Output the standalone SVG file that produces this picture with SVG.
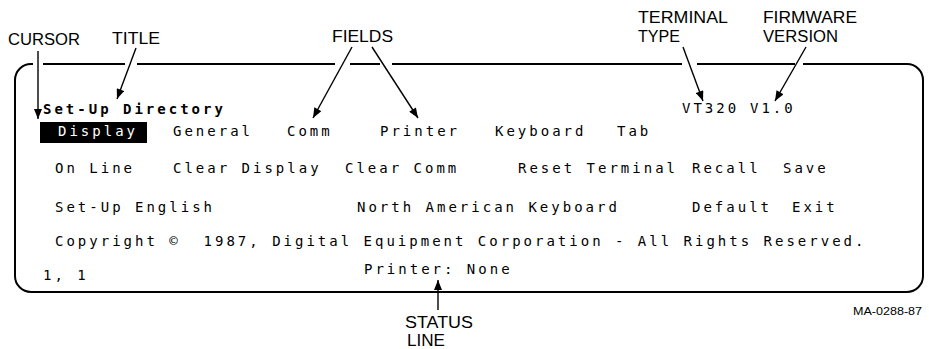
<svg xmlns="http://www.w3.org/2000/svg" width="929" height="349" viewBox="0 0 929 349">
<style>
.lbl{font-family:"Liberation Sans",Arial,sans-serif;font-size:16px;fill:#000}
.scr{font-family:"DejaVu Sans Mono","Liberation Mono",monospace;font-size:14px;letter-spacing:3px;fill:#000}
.b{font-weight:bold}
.frame{fill:none;stroke:#000;stroke-width:2}
.arr{fill:none;stroke:#000;stroke-width:1.4;marker-end:url(#ah)}
</style>
<defs>
<marker id="ah" viewBox="0 0 10 8" refX="10" refY="4" markerWidth="11" markerHeight="8" markerUnits="userSpaceOnUse" orient="auto">
<path d="M0,0 L10,4 L0,8 Z" fill="#000"/>
</marker>
</defs>
<rect width="929" height="349" fill="#fff"/>
<g id="screen">
<path class="frame" d="M43 64 H125 M137 64 H335 M350 64 H380 M392 64 H682 M697 64 H795 M803 64 H907 A16 16 0 0 1 923 80 V276 A16 16 0 0 1 907 292 H31 A16 16 0 0 1 15 276 V80 A16 16 0 0 1 31 64 H33"/>
<text class="scr b" x="43" y="114">Set-Up Directory</text>
<text class="scr" x="682" y="113">VT320</text>
<text class="scr" x="750" y="113">V1.0</text>
<rect x="40" y="122" width="107" height="21" fill="#000"/>
<text class="scr" x="58" y="136" style="fill:#fff">Display</text>
<text class="scr" x="173" y="136">General</text>
<text class="scr" x="287" y="136">Comm</text>
<text class="scr" x="380" y="136">Printer</text>
<text class="scr" x="495" y="136">Keyboard</text>
<text class="scr" x="617" y="136">Tab</text>
<text class="scr" x="55" y="173">On Line</text>
<text class="scr" x="173" y="173">Clear Display</text>
<text class="scr" x="345" y="173">Clear Comm</text>
<text class="scr" x="518" y="173">Reset Terminal</text>
<text class="scr" x="692" y="173">Recall</text>
<text class="scr" x="783" y="173">Save</text>
<text class="scr" x="55" y="212">Set-Up English</text>
<text class="scr" x="357" y="212">North American Keyboard</text>
<text class="scr" x="692" y="212">Default</text>
<text class="scr" x="792" y="212">Exit</text>
<text class="scr" x="55" y="246" xml:space="preserve">Copyright ©  1987, Digital Equipment Corporation - All Rights Reserved.</text>
<text class="scr" x="43" y="280">1, 1</text>
<text class="scr" x="364" y="274">Printer: None</text>
</g>
<g id="labels">
<text id="cursor" class="lbl" x="8" y="45" textLength="72" lengthAdjust="spacingAndGlyphs">CURSOR</text>
<text id="title" class="lbl" x="112" y="44" textLength="48" lengthAdjust="spacingAndGlyphs">TITLE</text>
<text id="fields" class="lbl" x="332" y="42" textLength="61" lengthAdjust="spacingAndGlyphs">FIELDS</text>
<text class="lbl" x="638" y="23" textLength="90" lengthAdjust="spacingAndGlyphs">TERMINAL</text>
<text class="lbl" x="638" y="42" textLength="42" lengthAdjust="spacingAndGlyphs">TYPE</text>
<text class="lbl" x="763" y="23" textLength="94" lengthAdjust="spacingAndGlyphs">FIRMWARE</text>
<text class="lbl" x="763" y="42" textLength="75" lengthAdjust="spacingAndGlyphs">VERSION</text>
<text class="lbl" x="405" y="328" textLength="68" lengthAdjust="spacingAndGlyphs">STATUS</text>
<text class="lbl" x="407" y="346" textLength="38" lengthAdjust="spacingAndGlyphs">LINE</text>
<text class="lbl" x="853" y="315" style="font-size:10px" textLength="69" lengthAdjust="spacingAndGlyphs">MA-0288-87</text>
</g>
<g id="connectors">
<line class="arr" x1="38" y1="51" x2="38" y2="119"/>
<line class="arr" x1="136" y1="48" x2="117" y2="99"/>
<line class="arr" x1="352" y1="47" x2="313" y2="118"/>
<line class="arr" x1="372" y1="47" x2="418" y2="118"/>
<line class="arr" x1="683" y1="47" x2="703" y2="101"/>
<line class="arr" x1="806" y1="47" x2="775" y2="101"/>
<line class="arr" x1="438" y1="310" x2="438" y2="280"/>
</g>
</svg>
